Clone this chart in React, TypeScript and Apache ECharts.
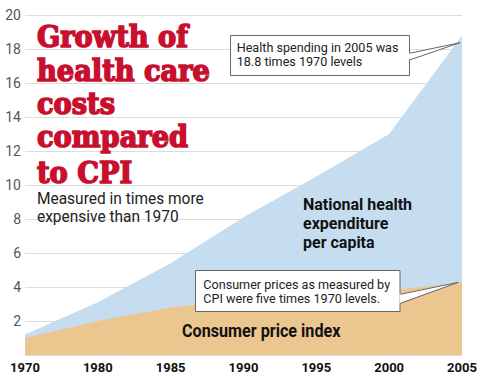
import React, { useEffect, useRef } from 'react';
import * as echarts from 'echarts';

const years = ['1970', '1980', '1985', '1990', '1995', '2000', '2005'];
const healthSpending = [1.2, 3.1, 5.4, 8.1, 10.5, 13.0, 18.8];
const consumerPrices = [1.0, 2.0, 2.8, 3.3, 3.55, 3.8, 4.25];
const yTicks = { min: 0, max: 20, step: 2 };

const titleLines = ['Growth of', 'health care', 'costs', 'compared', 'to CPI'];
const subtitleLines = ['Measured in times more', 'expensive than 1970'];
const healthLabelLines = ['National health', 'expenditure', 'per capita'];
const cpiLabel = 'Consumer price index';
const healthNote = ['Health spending in 2005 was', '18.8 times 1970 levels'];
const cpiNote = ['Consumer prices as measured by', 'CPI were five times 1970 levels.'];

const BLUE = '#c6dcef';
const TAN = '#ebc68f';
const RED = '#c8102e';
const SANS = 'Roboto, "Liberation Sans", Arial, sans-serif';

function txt(text: string, x: number, y: number, font: string, fill: string, scaleX = 1, extra: any = {}) {
  return {
    type: 'text',
    x,
    y,
    scaleX,
    z: 110,
    style: {
      text,
      font,
      fill,
      align: 'left',
      textAlign: 'left',
      verticalAlign: 'middle',
      textVerticalAlign: 'middle',
      ...extra,
    },
  };
}

export default function App() {
  const ref = useRef<HTMLDivElement>(null);

  useEffect(() => {
    const chart = echarts.init(ref.current as HTMLDivElement, null, { renderer: 'svg' });

    const titleY = [37.5, 71, 104.5, 137.6, 173.3];
    const subY = [197.8, 216.5];
    const healthY = [204.2, 223.5, 242];

    const graphics: any[] = [];
    titleLines.forEach((t, i) =>
      graphics.push(
        txt(t, 37, titleY[i], 'bold 29px "DejaVu Serif", serif', RED, 0.94, {
          stroke: RED,
          lineWidth: 1.6,
        })
      )
    );
    subtitleLines.forEach((t, i) => graphics.push(txt(t, 37, subY[i], `17px ${SANS}`, '#222', 0.91)));
    healthLabelLines.forEach((t, i) =>
      graphics.push(txt(t, 303, healthY[i], `bold 16px ${SANS}`, '#111', 1.0))
    );
    graphics.push(txt(cpiLabel, 182, 330.2, `bold 19px ${SANS}`, '#111', 0.85));

    // Callout 1
    graphics.push({
      type: 'rect',
      z: 100,
      shape: { x: 230.5, y: 35.5, width: 179, height: 40 },
      style: { fill: '#fff', stroke: '#666', lineWidth: 1 },
    });
    graphics.push({
      type: 'polygon',
      z: 101,
      shape: { points: [[408.5, 53.3], [460, 42.7], [408.5, 60]] },
      style: { fill: '#fff', stroke: null },
    });
    graphics.push({
      type: 'polyline',
      z: 102,
      shape: { points: [[409.5, 53.3], [460, 42.7], [409.5, 60]] },
      style: { fill: null, stroke: '#666', lineWidth: 1 },
    });
    graphics.push(txt(healthNote[0], 236.7, 47, `13px ${SANS}`, '#222', 0.97));
    graphics.push(txt(healthNote[1], 236.7, 61, `13px ${SANS}`, '#222', 0.97));

    // Callout 2
    graphics.push({
      type: 'rect',
      z: 100,
      shape: { x: 195.5, y: 270.5, width: 204.5, height: 41 },
      style: { fill: '#fff', stroke: '#666', lineWidth: 1 },
    });
    graphics.push({
      type: 'polygon',
      z: 101,
      shape: { points: [[399.5, 294.3], [458.3, 282.3], [399.5, 303.3]] },
      style: { fill: '#fff', stroke: null },
    });
    graphics.push({
      type: 'polyline',
      z: 102,
      shape: { points: [[400.5, 294.3], [458.3, 282.3], [400.5, 303.3]] },
      style: { fill: null, stroke: '#666', lineWidth: 1 },
    });
    graphics.push(txt(cpiNote[0], 203.3, 284.6, `13px ${SANS}`, '#222', 0.97));
    graphics.push(txt(cpiNote[1], 203.3, 298.6, `13px ${SANS}`, '#222', 0.97));

    chart.setOption({
      animation: false,
      backgroundColor: '#fff',
      grid: { left: 25, right: 38, top: 15, bottom: 22, containLabel: false },
      xAxis: {
        type: 'category',
        data: years,
        boundaryGap: false,
        axisLine: { show: false },
        axisTick: { show: false },
        splitLine: { show: false },
        axisLabel: {
          interval: 0,
          color: '#111',
          fontWeight: 'bold',
          fontSize: 13,
          fontFamily: SANS,
          margin: 6,
        },
      },
      yAxis: {
        type: 'value',
        min: yTicks.min,
        max: yTicks.max,
        interval: yTicks.step,
        axisLine: { show: false },
        axisTick: { show: false },
        splitLine: { lineStyle: { color: '#dcdcdc', width: 1 } },
        axisLabel: {
          color: '#555',
          fontSize: 14,
          fontFamily: SANS,
          margin: 4,
          formatter: (v: number) => (v === 0 ? '' : String(v)),
        },
      },
      series: [
        {
          name: 'National health expenditure per capita',
          type: 'line',
          data: healthSpending,
          symbol: 'none',
          lineStyle: { width: 0 },
          areaStyle: { color: BLUE, opacity: 1 },
          z: 2,
        },
        {
          name: 'Consumer price index',
          type: 'line',
          data: consumerPrices,
          symbol: 'none',
          lineStyle: { width: 0 },
          areaStyle: { color: TAN, opacity: 1 },
          z: 3,
        },
      ],
      graphic: { elements: graphics },
    });

    return () => chart.dispose();
  }, []);

  return <div ref={ref} style={{ position: 'fixed', left: 0, top: 0, width: 500, height: 377 }} />;
}
